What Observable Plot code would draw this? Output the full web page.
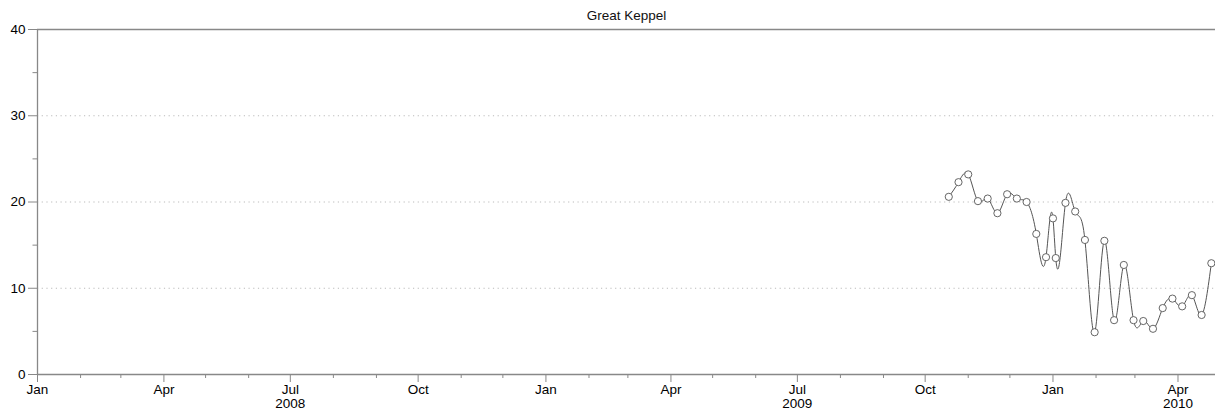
<!DOCTYPE html>
<html>
<head>
<meta charset="utf-8">
<script src="https://cdn.jsdelivr.net/npm/d3@7"></script>
<script src="https://cdn.jsdelivr.net/npm/@observablehq/plot@0.6"></script>
<style>
  html, body { margin: 0; padding: 0; background: #fff; }
  #chart svg { display: block; }
</style>
</head>
<body>
<div id="chart"></div>
<script>
const title = "Great Keppel";
const dates = [
  "2009-10-18", "2009-10-25", "2009-11-01", "2009-11-08", "2009-11-15", "2009-11-22",
  "2009-11-29", "2009-12-06", "2009-12-13", "2009-12-20", "2009-12-27", "2010-01-01",
  "2010-01-03", "2010-01-10", "2010-01-17", "2010-01-24", "2010-01-31", "2010-02-07",
  "2010-02-14", "2010-02-21", "2010-02-28", "2010-03-07", "2010-03-14", "2010-03-21",
  "2010-03-28", "2010-04-04", "2010-04-11", "2010-04-18", "2010-04-25"
];
const values = [
  20.6, 22.3, 23.2, 20.1, 20.4, 18.7,
  20.9, 20.4, 20.0, 16.3, 13.6, 18.1,
  13.5, 19.9, 18.9, 15.6, 4.9, 15.5,
  6.3, 12.7, 6.3, 6.2, 5.3, 7.7,
  8.8, 7.9, 9.2, 6.9, 12.9
];
const xDomain = ["2008-01-01", "2010-04-28"];
const xMajorTicks = [
  "2008-01-01", "2008-04-01", "2008-07-01", "2008-10-01",
  "2009-01-01", "2009-04-01", "2009-07-01", "2009-10-01",
  "2010-01-01", "2010-04-01"
];
const xTickLabels = [
  "Jan", "Apr", "Jul\n2008", "Oct",
  "Jan", "Apr", "Jul\n2009", "Oct",
  "Jan", "Apr\n2010"
];
const yDomain = [0, 40];
const yMajorTicks = [0, 10, 20, 30, 40];
const yMinorTicks = [5, 15, 25, 35];
const yGridLines = [10, 20, 30];

const parse = d3.utcParse("%Y-%m-%d");
const data = dates.map((d, i) => ({date: parse(d), value: values[i]}));
const majorX = xMajorTicks.map(parse);
const labelOf = new Map(majorX.map((d, i) => [+d, xTickLabels[i]]));
const xd = xDomain.map(parse);
const minorX = d3.utcMonth.range(xd[0], xd[1]).filter(d => !labelOf.has(+d));

// Natural cubic spline interpolating in x (a curve factory, like d3's curves)
function curveNaturalX(context) {
  let xs, ys;
  return {
    areaStart() {}, areaEnd() {},
    lineStart() { xs = []; ys = []; },
    point(x, y) { xs.push(+x); ys.push(+y); },
    lineEnd() {
      const n = xs.length;
      if (n === 0) return;
      context.moveTo(xs[0], ys[0]);
      if (n === 1) return;
      if (n === 2) { context.lineTo(xs[1], ys[1]); return; }
      const h = [], M = new Array(n).fill(0);
      for (let i = 0; i < n - 1; i++) h.push(xs[i + 1] - xs[i]);
      // tridiagonal solve for interior second derivatives
      const a = [], b = [], c = [], r = [];
      for (let i = 1; i < n - 1; i++) {
        a.push(h[i - 1]);
        b.push(2 * (h[i - 1] + h[i]));
        c.push(h[i]);
        r.push(6 * ((ys[i + 1] - ys[i]) / h[i] - (ys[i] - ys[i - 1]) / h[i - 1]));
      }
      const m = b.length;
      for (let i = 1; i < m; i++) {
        const w = a[i] / b[i - 1];
        b[i] -= w * c[i - 1];
        r[i] -= w * r[i - 1];
      }
      const sol = new Array(m);
      sol[m - 1] = r[m - 1] / b[m - 1];
      for (let i = m - 2; i >= 0; i--) sol[i] = (r[i] - c[i] * sol[i + 1]) / b[i];
      for (let i = 0; i < m; i++) M[i + 1] = sol[i];
      for (let i = 0; i < n - 1; i++) {
        const hi = h[i], s = (ys[i + 1] - ys[i]) / hi;
        const d0 = s - hi * (2 * M[i] + M[i + 1]) / 6;
        const d1 = s + hi * (M[i] + 2 * M[i + 1]) / 6;
        context.bezierCurveTo(
          xs[i] + hi / 3, ys[i] + d0 * hi / 3,
          xs[i + 1] - hi / 3, ys[i + 1] - d1 * hi / 3,
          xs[i + 1], ys[i + 1]
        );
      }
    }
  };
}

const axisColor = "#888";
const font = "'Liberation Sans', Arial, Helvetica, sans-serif";

const chart = Plot.plot({
  width: 1215,
  height: 416,
  marginTop: 29,
  marginBottom: 42,
  marginLeft: 37,
  marginRight: 0,
  style: {fontFamily: font, fontSize: "13.5px", color: "#000", background: "#fff"},
  x: {type: "utc", domain: xd},
  y: {domain: yDomain},
  marks: [
    Plot.ruleY(yGridLines, {stroke: "#bbb", strokeDasharray: "1.2,3.5", strokeWidth: 1}),
    Plot.axisY({ticks: yMajorTicks, tickSize: 9, tickPadding: 3, stroke: axisColor, tickFormat: d => String(d), label: null}),
    Plot.axisY({ticks: yMinorTicks, tickSize: 4.5, tickFormat: () => "", stroke: axisColor, label: null}),
    Plot.axisX({ticks: majorX, tickSize: 8, tickPadding: 2, stroke: axisColor, tickFormat: d => labelOf.get(+d), label: null}),
    Plot.axisX({ticks: minorX, tickSize: 4, tickFormat: () => "", stroke: axisColor, label: null}),
    Plot.ruleX([xd[0]], {stroke: axisColor, strokeWidth: 1.3}),
    Plot.ruleY([yDomain[0]], {stroke: axisColor, strokeWidth: 1.3}),
    Plot.ruleY([yDomain[1]], {stroke: axisColor, strokeWidth: 1.3}),
    Plot.text([title], {frameAnchor: "top", lineAnchor: "middle", dy: -14, fontSize: 13.5, fill: "#111"}),
    Plot.line(data, {x: "date", y: "value", curve: curveNaturalX, stroke: "#555", strokeWidth: 1}),
    Plot.dot(data, {x: "date", y: "value", r: 3.6, fill: "#fff", stroke: "#555", strokeWidth: 0.9})
  ]
});
document.getElementById("chart").appendChild(chart);
</script>
</body>
</html>
